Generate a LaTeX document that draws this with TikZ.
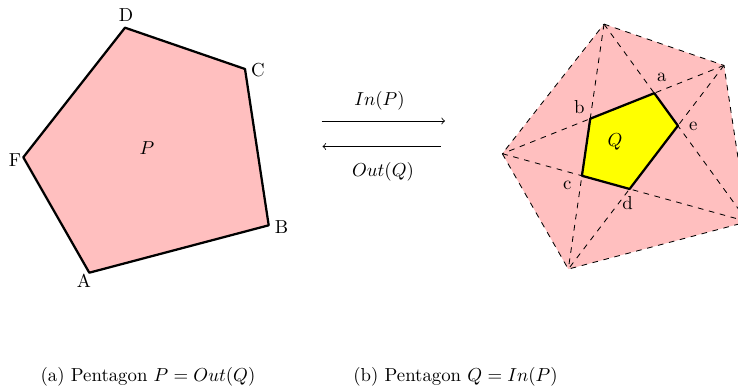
\documentclass[tikz,border=0pt]{standalone}
\usetikzlibrary{calc}
\definecolor{pinkfill}{RGB}{255,191,191}
\definecolor{qyellow}{RGB}{255,255,0}
\tikzset{
  outerpoly/.style={fill=pinkfill,draw=black,line width=1.2pt,line join=round},
  dashline/.style={draw=black,dashed,line width=0.45pt},
  innerpoly/.style={fill=qyellow,draw=black,line width=1.2pt,line join=round},
  maparrow/.style={->,line width=0.45pt},
  lbl/.style={inner sep=0pt,font=\normalsize}
}
\begin{document}
\begin{tikzpicture}[x=0.532pt,y=-0.532pt]
\useasboundingbox (0,0) rectangle (738,389);
\clip (0,0) rectangle (738,389);
% left pentagon P
\coordinate (D) at (125,27.7);
\coordinate (C) at (245,69);
\coordinate (B) at (268.7,225.3);
\coordinate (A) at (89.3,272.7);
\coordinate (F) at (23.3,157.3);
\draw[outerpoly] (D) -- (C) -- (B) -- (A) -- (F) -- cycle;
\node[lbl] (lD) at (126,15) {D};
\node[lbl] (lC) at (258,70) {C};
\node[lbl] (lB) at (281.5,227) {B};
\node[lbl] (lA) at (84,281) {A};
\node[lbl] (lF) at (15,160) {F};
\node[lbl] (lP) at (147,148) {$P$};
% right pentagon
\coordinate (T) at (604,24.1);
\coordinate (RT) at (724,65.4);
\coordinate (R) at (747.7,221.7);
\coordinate (Bo) at (568.3,269.1);
\coordinate (L) at (502.3,153.7);
\fill[pinkfill] (T) -- (RT) -- (R) -- (Bo) -- (L) -- cycle;
\draw[dashline] (T) -- (RT) -- (R) -- (Bo) -- (L) -- cycle;
\draw[dashline] (T) -- (R);
\draw[dashline] (T) -- (Bo);
\draw[dashline] (RT) -- (Bo);
\draw[dashline] (RT) -- (L);
\draw[dashline] (L) -- (R);
\coordinate (qa) at (intersection of T--R and RT--L);
\coordinate (qe) at (intersection of T--R and RT--Bo);
\coordinate (qd) at (intersection of RT--Bo and L--R);
\coordinate (qc) at (intersection of L--R and T--Bo);
\coordinate (qb) at (intersection of T--Bo and RT--L);
\draw[innerpoly] (qa) -- (qe) -- (qd) -- (qc) -- (qb) -- cycle;
\node[lbl] (la) at (661.7,77.5) {a};
\node[lbl] (lb) at (579.3,107.3) {b};
\node[lbl] (le) at (693.3,126) {e};
\node[lbl] (lc) at (567.3,185.7) {c};
\node[lbl] (ld) at (627.7,202.7) {d};
\node[lbl] (lQ) at (615,142) {$Q$};
% arrows
\coordinate (in1) at (321.7,121);
\coordinate (in2) at (445,121);
\coordinate (out1) at (440.7,146.5);
\coordinate (out2) at (322.5,146.5);
\draw[maparrow] (in1) -- (in2);
\draw[maparrow] (out1) -- (out2);
\node[lbl] (lin) at (379.5,101) {$In(P)$};
\node[lbl] (lout) at (383,172) {$Out(Q)$};
% captions
\node[lbl] (capa) at (148,377) {(a) Pentagon $P = Out(Q)$};
\node[lbl] (capb) at (455.5,377) {(b) Pentagon $Q = In(P)$};
\end{tikzpicture}
\end{document}
